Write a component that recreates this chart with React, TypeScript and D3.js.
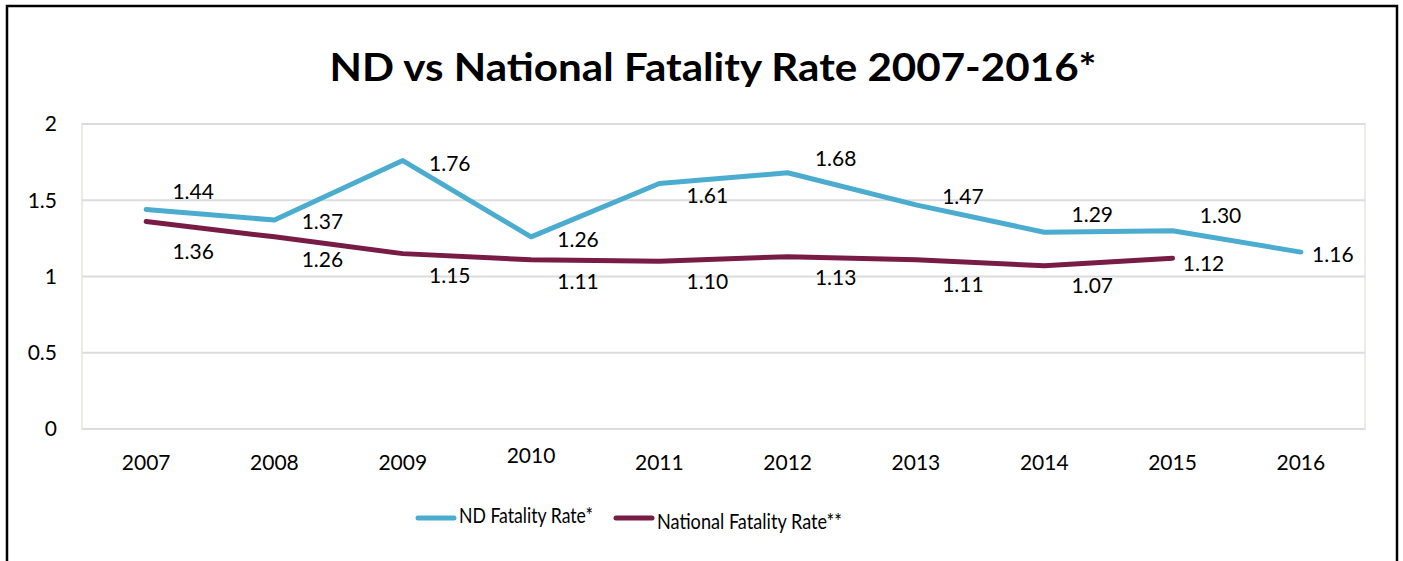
import * as d3 from "d3";

const years = ["2007", "2008", "2009", "2010", "2011", "2012", "2013", "2014", "2015", "2016"];
const ndRate = [1.44, 1.37, 1.76, 1.26, 1.61, 1.68, 1.47, 1.29, 1.3, 1.16];
const nationalRate: (number | null)[] = [1.36, 1.26, 1.15, 1.11, 1.1, 1.13, 1.11, 1.07, 1.12, null];
const yTicks = [0, 0.5, 1, 1.5, 2];

// label placement offsets (px from point), like Excel's manually dragged labels
const ndLabelDx = [47, 48, 47, 47, 48, 48, 47, 48, 48, 32];
const ndLabelDy = [-18, 2, 3, 3, 12, -14, -8, -18, -15, 3];
const natLabelDx = [47, 48, 47, 47, 48, 48, 47, 48, 31];
const natLabelDy = [30, 23, 22, 22, 20, 21, 25, 20, 5];

const ND_COLOR = "#4bacd0";
const NAT_COLOR = "#781c46";
const FONT = "Lato, 'Open Sans', sans-serif";

export default function App() {
  const width = 1403;
  const height = 561;
  const plot = { left: 82, right: 1365, top: 124, bottom: 429 };

  const x = d3.scaleBand<string>().domain(years).range([plot.left, plot.right]);
  const cx = (d: string) => (x(d) ?? 0) + x.bandwidth() / 2;
  const y = d3.scaleLinear().domain([0, 2]).range([plot.bottom, plot.top]);

  const line = d3
    .line<number | null>()
    .defined((d) => d != null)
    .x((_, i) => cx(years[i]))
    .y((d) => y(d as number));

  const fmt = d3.format(".2f");

  return (
    <svg
      width={width}
      height={height}
      style={{ position: "absolute", left: 0, top: 0, background: "#fff" }}
      fontFamily={FONT}
    >
      <rect x={7} y={6} width={1390} height={600} fill="#fff" stroke="#000" strokeWidth={2.5} />

      <text
        x={713}
        y={81}
        textAnchor="middle"
        fontSize={39}
        fontWeight="bold"
        fill="#000"
        textLength={767}
        lengthAdjust="spacingAndGlyphs"
      >
        ND vs National Fatality Rate 2007-2016*
      </text>

      {/* plot frame + gridlines */}
      <rect
        x={plot.left}
        y={plot.top}
        width={plot.right - plot.left}
        height={plot.bottom - plot.top}
        fill="none"
        stroke="#eeebe6"
        strokeWidth={2}
      />
      {yTicks.map((t) => (
        <g key={t}>
          <line x1={plot.left} x2={plot.right} y1={y(t)} y2={y(t)} stroke="#dcdcdc" strokeWidth={2} />
          <text x={57} y={y(t)} dy="0.35em" textAnchor="end" fontSize={21} fill="#000">
            {t}
          </text>
        </g>
      ))}

      {years.map((yr) => (
        <text
          key={yr}
          x={cx(yr)}
          y={yr === "2010" ? 463 : 470}
          textAnchor="middle"
          fontSize={21}
          fill="#000"
        >
          {yr}
        </text>
      ))}

      <path d={line(ndRate) ?? ""} fill="none" stroke={ND_COLOR} strokeWidth={5} strokeLinejoin="round" strokeLinecap="round" />
      <path d={line(nationalRate) ?? ""} fill="none" stroke={NAT_COLOR} strokeWidth={5} strokeLinejoin="round" strokeLinecap="round" />

      {ndRate.map((v, i) => (
        <text
          key={"nd" + i}
          x={cx(years[i]) + ndLabelDx[i]}
          y={y(v) + ndLabelDy[i]}
          dy="0.35em"
          textAnchor="middle"
          fontSize={21}
          fill="#000"
        >
          {fmt(v)}
        </text>
      ))}
      {nationalRate.map((v, i) =>
        v == null ? null : (
          <text
            key={"nat" + i}
            x={cx(years[i]) + natLabelDx[i]}
            y={y(v) + natLabelDy[i]}
            dy="0.35em"
            textAnchor="middle"
            fontSize={21}
            fill="#000"
          >
            {fmt(v)}
          </text>
        )
      )}

      {/* legend */}
      <line x1={418} x2={454} y1={518} y2={518} stroke={ND_COLOR} strokeWidth={5} strokeLinecap="round" />
      <text x={459} y={516} dy="0.35em" fontSize={21} fill="#000" textLength={134} lengthAdjust="spacingAndGlyphs">
        ND Fatality Rate*
      </text>
      <line x1={616} x2={652} y1={518} y2={518} stroke={NAT_COLOR} strokeWidth={5} strokeLinecap="round" />
      <text x={657} y={522} dy="0.35em" fontSize={21} fill="#000" textLength={185} lengthAdjust="spacingAndGlyphs">
        National Fatality Rate**
      </text>
    </svg>
  );
}
